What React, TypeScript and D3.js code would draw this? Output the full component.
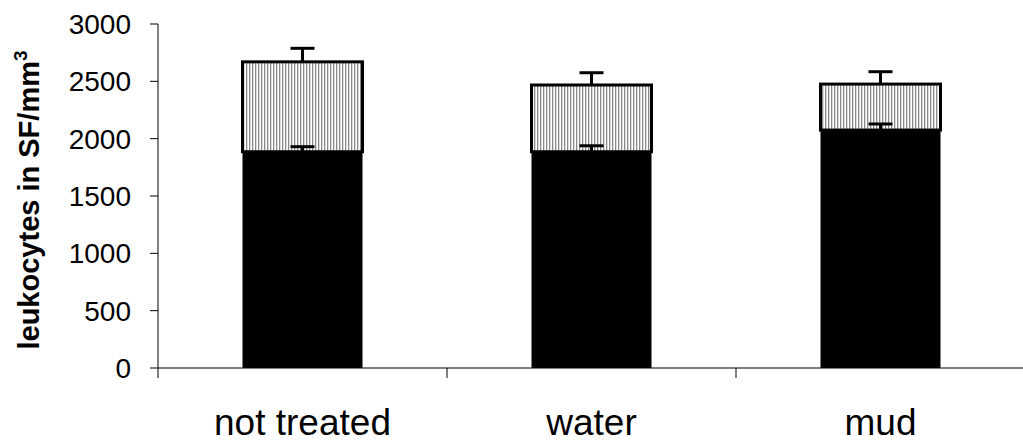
import React from "react";
import * as d3 from "d3";

const categories = ["not treated", "water", "mud"];
const lowerValues = [1886, 1886, 2075];
const lowerErrors = [44, 52, 53];
const totalValues = [2670, 2468, 2476];
const totalErrors = [118, 107, 108];
const yTicks = [0, 500, 1000, 1500, 2000, 2500, 3000];

export default function App() {
  const W = 1023, H = 448;
  const left = 158, right = 1025, top = 24, bottom = 368;
  const x = d3.scaleBand<string>().domain(categories).range([left, right]).paddingInner(0).paddingOuter(0);
  const y = d3.scaleLinear().domain([0, 3000]).range([bottom, top]);
  const bw = 120;
  const capW = 24;
  return (
    <svg width={W} height={H} style={{ position: "absolute", left: 0, top: 0 }} fontFamily="'Liberation Sans', Arial, sans-serif">
      <defs>
        <pattern id="hatch" patternUnits="userSpaceOnUse" width={3} height={10}>
          <rect width={3} height={10} fill="#fff" />
          <rect width={1.3} height={10} fill="#8a8a8a" />
        </pattern>
      </defs>
      {categories.map((c, i) => {
        const cx = x(c)! + x.bandwidth() / 2;
        const x0 = cx - bw / 2;
        return (
          <g key={c}>
            <rect x={x0} y={y(lowerValues[i])} width={bw} height={y(0) - y(lowerValues[i])} fill="#000" />
            <rect x={x0} y={y(totalValues[i])} width={bw} height={y(lowerValues[i]) - y(totalValues[i])} fill="url(#hatch)" stroke="#000" strokeWidth={3} />
            <line x1={cx} x2={cx} y1={y(lowerValues[i])} y2={y(lowerValues[i] + lowerErrors[i])} stroke="#000" strokeWidth={3} />
            <line x1={cx - capW / 2} x2={cx + capW / 2} y1={y(lowerValues[i] + lowerErrors[i])} y2={y(lowerValues[i] + lowerErrors[i])} stroke="#000" strokeWidth={3} />
            <line x1={cx} x2={cx} y1={y(totalValues[i])} y2={y(totalValues[i] + totalErrors[i])} stroke="#000" strokeWidth={3} />
            <line x1={cx - capW / 2} x2={cx + capW / 2} y1={y(totalValues[i] + totalErrors[i])} y2={y(totalValues[i] + totalErrors[i])} stroke="#000" strokeWidth={3} />
            <text x={cx} y={435} textAnchor="middle" fontSize={37} fill="#000">{c}</text>
          </g>
        );
      })}
      <line x1={left} x2={left} y1={top} y2={bottom} stroke="#000" strokeWidth={1} />
      {yTicks.map((t) => (
        <g key={t}>
          <line x1={left - 8} x2={left} y1={y(t)} y2={y(t)} stroke="#000" strokeWidth={1} />
          <text x={131} y={y(t) + 10} textAnchor="end" fontSize={28} fill="#000">{t}</text>
        </g>
      ))}
      <line x1={left} x2={W} y1={bottom} y2={bottom} stroke="#000" strokeWidth={1} />
      {categories.map((c) => (
        <line key={"t" + c} x1={x(c)!} x2={x(c)!} y1={bottom} y2={bottom + 10} stroke="#000" strokeWidth={1} />
      ))}
      <line x1={right} x2={right} y1={bottom} y2={bottom + 10} stroke="#000" strokeWidth={1} />
      <text transform={`translate(39, 200) rotate(-90)`} textAnchor="middle" fontSize={29} fontWeight="bold" fill="#000">
        leukocytes in SF/mm<tspan dy={-12} fontSize={19}>3</tspan>
      </text>
    </svg>
  );
}
